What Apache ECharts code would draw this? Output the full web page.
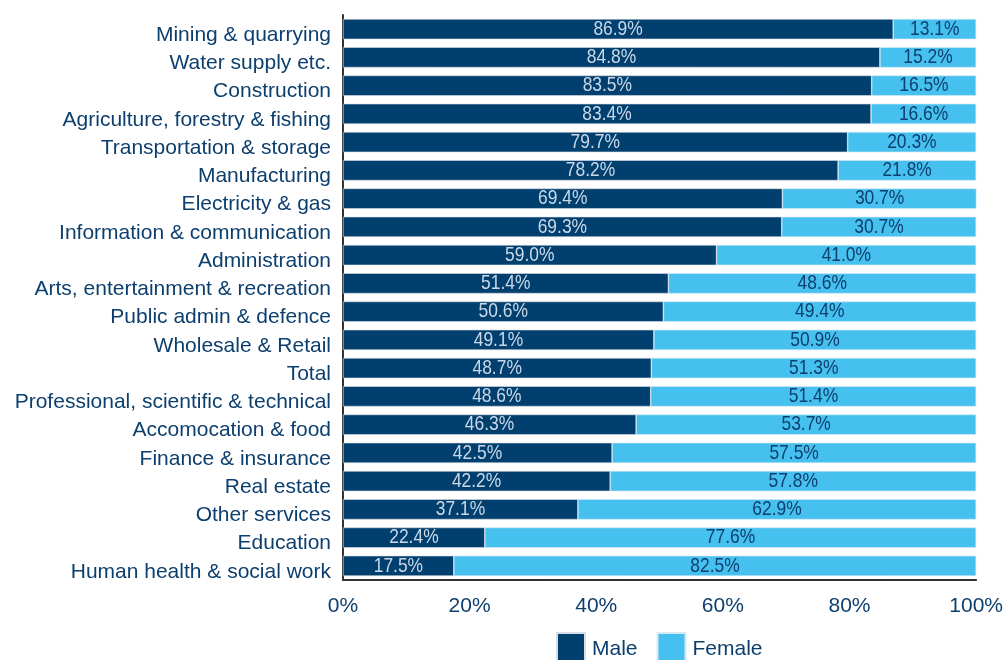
<!DOCTYPE html>
<html>
<head>
<meta charset="utf-8">
<style>
  html, body { margin: 0; padding: 0; background: #ffffff; }
  #chart { width: 1006px; height: 660px; }
</style>
<script src="https://cdn.jsdelivr.net/npm/echarts@6/dist/echarts.min.js"></script>
</head>
<body>
<div id="chart"></div>
<script>
// Industry sectors, listed top to bottom
const categories = [
  'Mining & quarrying',
  'Water supply etc.',
  'Construction',
  'Agriculture, forestry & fishing',
  'Transportation & storage',
  'Manufacturing',
  'Electricity & gas',
  'Information & communication',
  'Administration',
  'Arts, entertainment & recreation',
  'Public admin & defence',
  'Wholesale & Retail',
  'Total',
  'Professional, scientific & technical',
  'Accomocation & food',
  'Finance & insurance',
  'Real estate',
  'Other services',
  'Education',
  'Human health & social work'
];

// Share of workers by sex (%)
const maleShare = [86.9, 84.8, 83.5, 83.4, 79.7, 78.2, 69.4, 69.3, 59.0, 51.4,
                   50.6, 49.1, 48.7, 48.6, 46.3, 42.5, 42.2, 37.1, 22.4, 17.5];
const femaleShare = [13.1, 15.2, 16.5, 16.6, 20.3, 21.8, 30.7, 30.7, 41.0, 48.6,
                     49.4, 50.9, 51.3, 51.4, 53.7, 57.5, 57.8, 62.9, 77.6, 82.5];

const xTicks = [0, 20, 40, 60, 80, 100];

const textColor = '#0d3f6e';
const maleColor = '#003f6e';
const femaleColor = '#46c1ef';
const sansFont = '"Liberation Sans", Arial, sans-serif';

// Rows for the in-bar percentage labels: [male, female, category index]
const labelRows = categories.map((c, i) => [maleShare[i], femaleShare[i], i]);

// Condensed percentage text centred on each segment
function renderShareLabels(params, api) {
  const m = api.value(0);
  const f = api.value(1);
  const idx = api.value(2);
  const pm = api.coord([m / 2, idx]);
  const pf = api.coord([m + f / 2, idx]);
  const makeText = (p, txt, fill) => ({
    type: 'text',
    x: p[0],
    y: p[1],
    scaleX: 0.83,
    style: {
      text: txt,
      fill: fill,
      font: '21px "Liberation Sans", Arial, sans-serif',
      align: 'center',
      verticalAlign: 'middle'
    }
  });
  return {
    type: 'group',
    children: [
      makeText(pm, m.toFixed(1) + '%', '#c9d9ea'),
      makeText(pf, f.toFixed(1) + '%', textColor)
    ]
  };
}

const chart = echarts.init(document.getElementById('chart'));

chart.setOption({
  animation: false,
  grid: { left: 343, right: 29, top: 15, bottom: 80, containLabel: false },
  legend: {
    top: 627,
    left: 551,
    itemWidth: 28,
    itemHeight: 32,
    itemGap: 19,
    icon: 'rect',
    textStyle: { color: textColor, fontSize: 21, fontFamily: sansFont, padding: [0, 0, 0, 2] },
    data: ['Male', 'Female']
  },
  xAxis: {
    type: 'value',
    min: 0,
    max: 100,
    interval: 20,
    axisLine: { show: true, lineStyle: { color: '#333333', width: 2 } },
    axisTick: { show: false },
    splitLine: { show: false },
    axisLabel: {
      color: textColor,
      fontSize: 21,
      fontFamily: sansFont,
      margin: 16,
      formatter: v => xTicks.includes(v) ? v + '%' : ''
    }
  },
  yAxis: {
    type: 'category',
    inverse: true,
    data: categories,
    axisLine: { show: true, lineStyle: { color: '#333333', width: 2 } },
    axisTick: { show: false },
    axisLabel: {
      margin: 12,
      formatter: v => '{a|' + v + '}',
      rich: {
        a: {
          color: textColor,
          fontSize: 21,
          fontFamily: sansFont,
          padding: [12, 0, 0, 0]
        }
      }
    }
  },
  series: [
    {
      name: 'Male',
      type: 'bar',
      stack: 'share',
      data: maleShare,
      barCategoryGap: '28%',
      itemStyle: { color: maleColor, borderColor: '#d6dde6', borderWidth: 0.6 }
    },
    {
      name: 'Female',
      type: 'bar',
      stack: 'share',
      data: femaleShare,
      itemStyle: { color: femaleColor, borderColor: '#d6e9f3', borderWidth: 0.6 }
    },
    {
      name: 'Share labels',
      type: 'custom',
      data: labelRows,
      encode: { x: 0, y: 2 },
      renderItem: renderShareLabels,
      silent: true,
      z: 10
    }
  ]
});
</script>
</body>
</html>
